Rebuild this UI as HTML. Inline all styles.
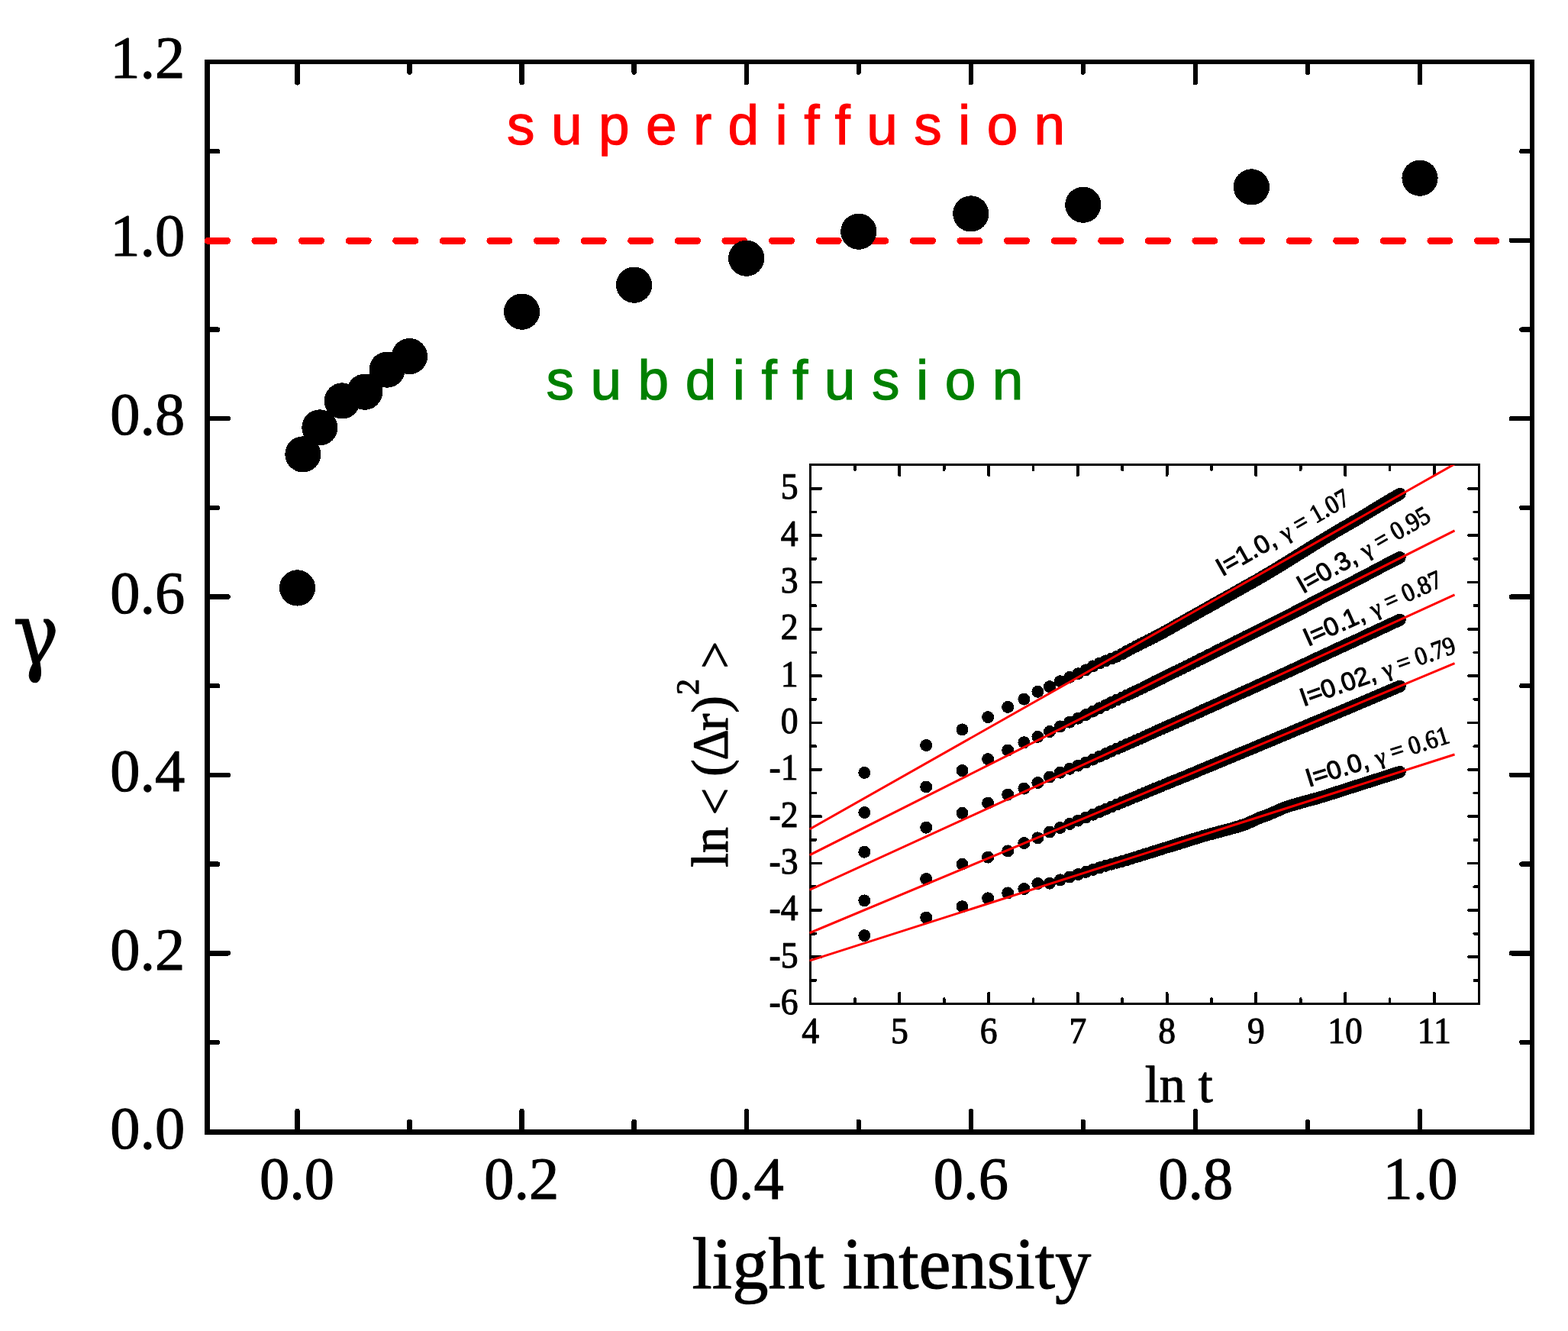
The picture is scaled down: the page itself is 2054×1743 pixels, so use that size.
<!DOCTYPE html>
<html lang="en">
<head>
<meta charset="utf-8">
<title>Diffusion exponent versus light intensity</title>
<style>
html,body{margin:0;padding:0;background:#fff;}
body{width:2054px;height:1743px;overflow:hidden;}
svg{display:block;}
.s{font-family:"Liberation Serif","DejaVu Serif",serif;}
.a{font-family:"Liberation Sans","DejaVu Sans",sans-serif;}
.g{font-family:"DejaVu Serif","Liberation Serif",serif;}
.t{fill:#000;stroke:#000;stroke-width:1.1px;stroke-linejoin:round;}
.t2{fill:#000;stroke:#000;stroke-width:1.1px;stroke-linejoin:round;}
</style>
</head>
<body>
<svg width="2054" height="1743" viewBox="0 0 2054 1743" shape-rendering="crispEdges" text-rendering="geometricPrecision">
<rect x="0" y="0" width="2054" height="1743" fill="#fff"/>
<g id="main-plot">
<path class="tick" d="M389.5 1482.4v-27.3M389.5 81.0v27.3M536.5 1482.4v-13.6M536.5 81.0v13.6M683.6 1482.4v-27.3M683.6 81.0v27.3M830.6 1482.4v-13.6M830.6 81.0v13.6M977.7 1482.4v-27.3M977.7 81.0v27.3M1124.8 1482.4v-13.6M1124.8 81.0v13.6M1271.8 1482.4v-27.3M1271.8 81.0v27.3M1418.8 1482.4v-13.6M1418.8 81.0v13.6M1565.9 1482.4v-27.3M1565.9 81.0v27.3M1713.0 1482.4v-13.6M1713.0 81.0v13.6M1860.0 1482.4v-27.3M1860.0 81.0v27.3M271.5 1364.9h13.6M2007.0 1364.9h-13.6M271.5 1248.3h27.3M2007.0 1248.3h-27.3M271.5 1131.6h13.6M2007.0 1131.6h-13.6M271.5 1014.9h27.3M2007.0 1014.9h-27.3M271.5 898.2h13.6M2007.0 898.2h-13.6M271.5 781.6h27.3M2007.0 781.6h-27.3M271.5 664.9h13.6M2007.0 664.9h-13.6M271.5 548.2h27.3M2007.0 548.2h-27.3M271.5 431.6h13.6M2007.0 431.6h-13.6M271.5 314.9h27.3M2007.0 314.9h-27.3M271.5 198.2h13.6M2007.0 198.2h-13.6" fill="none" stroke="#000" stroke-width="6.4" stroke-linecap="round"/>
<rect class="frame" x="271.5" y="81.0" width="1735.5" height="1401.4" fill="none" stroke="#000" stroke-width="6.6"/>
<path class="ref" d="M272.3 315.3H1960" fill="none" stroke="#f00" stroke-width="9" stroke-linecap="round" stroke-dasharray="25.1 36.5"/>
<g class="pts">
<circle cx="389.5" cy="769.9" r="23.6"/>
<circle cx="396.9" cy="594.9" r="23.6"/>
<circle cx="418.9" cy="559.9" r="23.6"/>
<circle cx="448.3" cy="524.9" r="23.6"/>
<circle cx="477.7" cy="513.2" r="23.6"/>
<circle cx="507.1" cy="484.1" r="23.6"/>
<circle cx="536.5" cy="466.6" r="23.6"/>
<circle cx="683.6" cy="408.2" r="23.6"/>
<circle cx="830.6" cy="373.2" r="23.6"/>
<circle cx="977.7" cy="338.2" r="23.6"/>
<circle cx="1124.8" cy="303.2" r="23.6"/>
<circle cx="1271.8" cy="279.9" r="23.6"/>
<circle cx="1418.8" cy="268.2" r="23.6"/>
<circle cx="1639.4" cy="244.9" r="23.6"/>
<circle cx="1860.0" cy="233.2" r="23.6"/>
</g>
<g class="s t" font-size="78.5" text-anchor="end">
<text x="242.3" y="1503.6">0.0</text>
<text x="242.3" y="1269.9">0.2</text>
<text x="242.3" y="1036.2">0.4</text>
<text x="242.3" y="802.6">0.6</text>
<text x="242.3" y="568.9">0.8</text>
<text x="242.3" y="335.2">1.0</text>
<text x="242.3" y="101.5">1.2</text>
</g>
<g class="s t" font-size="78.5" text-anchor="middle">
<text x="389.0" y="1570.3">0.0</text>
<text x="683.3" y="1570.3">0.2</text>
<text x="977.6" y="1570.3">0.4</text>
<text x="1271.9" y="1570.3">0.6</text>
<text x="1566.2" y="1570.3">0.8</text>
<text x="1860.5" y="1570.3">1.0</text>
</g>
<text class="s t" font-size="96" transform="translate(906.6 1686.5) scale(0.985 1)">light intensity</text>
<text class="g t" font-size="113.8" transform="translate(16.8 870.2) scale(0.89 1)">γ</text>
<text class="a" font-size="73" x="664.1" y="188.5" style="fill:#f00;stroke:#f00;stroke-width:1.2px" letter-spacing="21.38">superdiffusion</text>
<text class="a" font-size="73" x="715.4" y="523" style="fill:#008000;stroke:#008000;stroke-width:1.2px" letter-spacing="21.52">subdiffusion</text>
</g>
<g id="inset">
<clipPath id="ic"><rect x="1060.4" y="608.8" width="878.6999999999998" height="705.6000000000001"/></clipPath>
<path class="msd" d="M1132.3 1011.9h0M1213.2 976.0h0M1260.5 955.4h0M1294.1 939.1h0M1320.2 925.9h0M1341.4 915.6h0M1359.4 905.8h0M1375.0 899.1h0M1388.8 892.2h0M1401.1 886.9h0M1412.2 882.2h0M1422.4 877.4h0M1431.7 872.4h0M1440.4 868.5h0M1448.4 865.4h0M1456.0 862.6h0M1463.0 859.7h0M1469.7 856.4h0M1476.0 852.9h0M1482.0 849.7h0M1487.7 846.7h0M1493.1 844.0h0M1498.3 841.4h0M1503.3 838.9h0M1508.1 836.5h0M1512.6 834.1h0M1517.0 831.8h0M1521.3 829.6h0M1525.4 827.3h0M1529.3 825.1h0M1533.2 823.0h0M1536.9 820.9h0M1540.5 818.8h0M1544.0 816.9h0M1547.3 815.0h0M1550.6 813.1h0M1553.8 811.3h0M1556.9 809.6h0M1560.0 807.9h0M1562.9 806.2h0M1565.8 804.6h0M1568.6 803.0h0M1571.4 801.5h0M1574.1 800.0h0M1576.7 798.5h0M1579.2 797.1h0M1581.8 795.7h0M1584.2 794.3h0M1586.6 793.0h0M1589.0 791.6h0M1591.3 790.3h0M1593.6 789.1h0M1595.8 787.8h0M1598.0 786.6h0M1600.1 785.4h0M1602.2 784.2h0M1604.3 783.1h0M1606.3 781.9h0M1608.3 780.8h0M1610.3 779.7h0M1612.2 778.6h0M1614.1 777.6h0M1616.0 776.5h0M1617.8 775.5h0M1619.6 774.5h0M1621.4 773.5h0M1623.2 772.5h0M1624.9 771.5h0M1626.6 770.6h0M1628.3 769.6h0M1629.9 768.7h0M1631.6 767.8h0M1633.2 766.8h0M1634.8 766.0h0M1636.3 765.1h0M1637.9 764.2h0M1639.4 763.3h0M1640.9 762.5h0M1642.4 761.6h0M1643.9 760.8h0M1645.3 760.0h0M1646.7 759.2h0M1648.2 758.4h0M1649.6 757.6h0M1650.9 756.8h0M1652.3 756.0h0M1653.6 755.2h0M1655.0 754.4h0M1656.3 753.7h0M1657.6 752.9h0M1658.9 752.1h0M1660.2 751.4h0M1661.4 750.6h0M1662.7 749.9h0M1663.9 749.2h0M1665.1 748.4h0M1666.4 747.7h0M1667.5 747.0h0M1668.7 746.3h0M1669.9 745.6h0M1671.1 744.9h0M1672.2 744.2h0M1673.4 743.5h0M1674.5 742.8h0M1675.6 742.1h0M1676.7 741.4h0M1677.8 740.7h0M1678.9 740.1h0M1680.0 739.4h0M1681.0 738.8h0M1682.1 738.1h0M1683.1 737.5h0M1684.2 736.8h0M1685.2 736.2h0M1686.2 735.6h0M1687.2 734.9h0M1688.2 734.3h0M1689.2 733.7h0M1690.2 733.1h0M1691.2 732.5h0M1692.2 731.9h0M1693.1 731.3h0M1694.1 730.7h0M1695.0 730.1h0M1696.0 729.5h0M1696.9 728.9h0M1697.8 728.4h0M1698.7 727.8h0M1699.6 727.2h0M1700.5 726.7h0M1701.4 726.1h0M1702.3 725.6h0M1703.2 725.0h0M1704.1 724.5h0M1704.9 723.9h0M1705.8 723.4h0M1706.7 722.8h0M1707.5 722.3h0M1708.4 721.8h0M1709.2 721.3h0M1710.0 720.8h0M1710.8 720.2h0M1711.7 719.7h0M1712.5 719.2h0M1713.3 718.7h0M1714.1 718.2h0M1714.9 717.7h0M1715.7 717.2h0M1716.5 716.7h0M1717.2 716.3h0M1718.0 715.8h0M1718.8 715.3h0M1719.6 714.8h0M1720.3 714.4h0M1721.1 713.9h0M1721.8 713.4h0M1722.6 713.0h0M1723.3 712.5h0M1724.0 712.0h0M1724.8 711.6h0M1725.5 711.1h0M1726.2 710.7h0M1726.9 710.3h0M1727.7 709.8h0M1728.4 709.4h0M1729.1 709.0h0M1729.8 708.5h0M1730.5 708.1h0M1731.2 707.7h0M1731.9 707.3h0M1732.5 706.8h0M1733.2 706.4h0M1733.9 706.0h0M1734.6 705.6h0M1735.2 705.2h0M1735.9 704.8h0M1736.6 704.4h0M1737.2 704.0h0M1737.9 703.6h0M1738.5 703.2h0M1739.2 702.8h0M1739.8 702.4h0M1740.5 702.0h0M1741.1 701.7h0M1741.7 701.3h0M1742.4 700.9h0M1743.0 700.5h0M1743.6 700.2h0M1744.2 699.8h0M1744.8 699.4h0M1745.5 699.1h0M1746.1 698.7h0M1746.7 698.3h0M1747.3 698.0h0M1747.9 697.6h0M1748.5 697.3h0M1749.1 696.9h0M1749.7 696.6h0M1750.2 696.2h0M1750.8 695.9h0M1751.4 695.5h0M1752.0 695.2h0M1752.6 694.9h0M1753.1 694.5h0M1753.7 694.2h0M1754.3 693.9h0M1754.8 693.5h0M1755.4 693.2h0M1756.0 692.9h0M1756.5 692.6h0M1757.1 692.3h0M1757.6 691.9h0M1758.2 691.6h0M1758.7 691.3h0M1759.3 691.0h0M1759.8 690.7h0M1760.4 690.4h0M1760.9 690.1h0M1761.4 689.8h0M1762.0 689.5h0M1762.5 689.2h0M1763.0 688.9h0M1763.5 688.6h0M1764.1 688.3h0M1764.6 688.0h0M1765.1 687.7h0M1765.6 687.4h0M1766.1 687.1h0M1766.6 686.8h0M1767.1 686.5h0M1767.7 686.2h0M1768.2 685.9h0M1768.7 685.6h0M1769.2 685.3h0M1769.7 685.0h0M1770.2 684.8h0M1770.6 684.5h0M1771.1 684.2h0M1771.6 683.9h0M1772.1 683.6h0M1772.6 683.3h0M1773.1 683.0h0M1773.6 682.8h0M1774.0 682.5h0M1774.5 682.2h0M1775.0 681.9h0M1775.5 681.6h0M1775.9 681.4h0M1776.4 681.1h0M1776.9 680.8h0M1777.4 680.5h0M1777.8 680.3h0M1778.3 680.0h0M1778.7 679.7h0M1779.2 679.4h0M1779.7 679.2h0M1780.1 678.9h0M1780.6 678.6h0M1781.0 678.3h0M1781.5 678.1h0M1781.9 677.8h0M1782.4 677.5h0M1782.8 677.3h0M1783.2 677.0h0M1783.7 676.7h0M1784.1 676.5h0M1784.6 676.2h0M1785.0 676.0h0M1785.4 675.7h0M1785.9 675.4h0M1786.3 675.2h0M1786.7 674.9h0M1787.2 674.7h0M1787.6 674.4h0M1788.0 674.1h0M1788.4 673.9h0M1788.9 673.6h0M1789.3 673.4h0M1789.7 673.1h0M1790.1 672.9h0M1790.5 672.6h0M1790.9 672.4h0M1791.4 672.1h0M1791.8 671.9h0M1792.2 671.6h0M1792.6 671.4h0M1793.0 671.1h0M1793.4 670.9h0M1793.8 670.6h0M1794.2 670.4h0M1794.6 670.1h0M1795.0 669.9h0M1795.4 669.7h0M1795.8 669.4h0M1796.2 669.2h0M1796.6 668.9h0M1797.0 668.7h0M1797.4 668.5h0M1797.8 668.2h0M1798.2 668.0h0M1798.6 667.7h0M1798.9 667.5h0M1799.3 667.3h0M1799.7 667.0h0M1800.1 666.8h0M1800.5 666.6h0M1800.9 666.3h0M1801.2 666.1h0M1801.6 665.9h0M1802.0 665.7h0M1802.4 665.4h0M1802.7 665.2h0M1803.1 665.0h0M1803.5 664.7h0M1803.9 664.5h0M1804.2 664.3h0M1804.6 664.1h0M1805.0 663.8h0M1805.3 663.6h0M1805.7 663.4h0M1806.1 663.2h0M1806.4 663.0h0M1806.8 662.7h0M1807.2 662.5h0M1807.5 662.3h0M1807.9 662.1h0M1808.2 661.9h0M1808.6 661.7h0M1808.9 661.4h0M1809.3 661.2h0M1809.7 661.0h0M1810.0 660.8h0M1810.4 660.6h0M1810.7 660.4h0M1811.1 660.2h0M1811.4 660.0h0M1811.7 659.8h0M1812.1 659.5h0M1812.4 659.3h0M1812.8 659.1h0M1813.1 658.9h0M1813.5 658.7h0M1813.8 658.5h0M1814.1 658.3h0M1814.5 658.1h0M1814.8 657.9h0M1815.2 657.7h0M1815.5 657.5h0M1815.8 657.3h0M1816.2 657.1h0M1816.5 656.9h0M1816.8 656.7h0M1817.2 656.5h0M1817.5 656.3h0M1817.8 656.1h0M1818.2 655.9h0M1818.5 655.7h0M1818.8 655.5h0M1819.1 655.3h0M1819.5 655.1h0M1819.8 655.0h0M1820.1 654.8h0M1820.4 654.6h0M1820.7 654.4h0M1821.1 654.2h0M1821.4 654.0h0M1821.7 653.8h0M1822.0 653.6h0M1822.3 653.4h0M1822.7 653.3h0M1823.0 653.1h0M1823.3 652.9h0M1823.6 652.7h0M1823.9 652.5h0M1824.2 652.3h0M1824.5 652.2h0M1824.8 652.0h0M1825.2 651.8h0M1825.5 651.6h0M1825.8 651.4h0M1826.1 651.3h0M1826.4 651.1h0M1826.7 650.9h0M1827.0 650.7h0M1827.3 650.5h0M1827.6 650.4h0M1827.9 650.2h0M1828.2 650.0h0M1828.5 649.8h0M1828.8 649.7h0M1829.1 649.5h0M1829.4 649.3h0M1829.7 649.2h0M1830.0 649.0h0M1830.3 648.8h0M1830.6 648.6h0M1830.9 648.5h0M1831.2 648.3h0M1831.5 648.1h0M1831.8 648.0h0M1832.0 647.8h0M1832.3 647.6h0M1832.6 647.5h0M1832.9 647.3h0M1833.2 647.1h0M1833.5 647.0h0M1833.8 646.8h0M1132.3 1064.0h0M1213.2 1030.5h0M1260.5 1009.1h0M1294.1 994.1h0M1320.2 982.5h0M1341.4 972.2h0M1359.4 964.9h0M1375.0 958.0h0M1388.8 951.4h0M1401.1 945.7h0M1412.2 940.7h0M1422.4 936.0h0M1431.7 931.6h0M1440.4 927.3h0M1448.4 923.4h0M1456.0 919.8h0M1463.0 916.5h0M1469.7 913.5h0M1476.0 910.6h0M1482.0 907.8h0M1487.7 905.1h0M1493.1 902.6h0M1498.3 900.1h0M1503.3 897.6h0M1508.1 895.2h0M1512.6 892.9h0M1517.0 890.8h0M1521.3 888.7h0M1525.4 886.6h0M1529.3 884.7h0M1533.2 882.8h0M1536.9 881.0h0M1540.5 879.2h0M1544.0 877.5h0M1547.3 875.9h0M1550.6 874.3h0M1553.8 872.7h0M1556.9 871.1h0M1560.0 869.6h0M1562.9 868.1h0M1565.8 866.7h0M1568.6 865.3h0M1571.4 863.9h0M1574.1 862.5h0M1576.7 861.2h0M1579.2 860.0h0M1581.8 858.7h0M1584.2 857.5h0M1586.6 856.3h0M1589.0 855.1h0M1591.3 853.9h0M1593.6 852.8h0M1595.8 851.7h0M1598.0 850.6h0M1600.1 849.6h0M1602.2 848.5h0M1604.3 847.5h0M1606.3 846.5h0M1608.3 845.5h0M1610.3 844.5h0M1612.2 843.6h0M1614.1 842.6h0M1616.0 841.7h0M1617.8 840.8h0M1619.6 839.9h0M1621.4 839.0h0M1623.2 838.1h0M1624.9 837.3h0M1626.6 836.4h0M1628.3 835.6h0M1629.9 834.8h0M1631.6 833.9h0M1633.2 833.1h0M1634.8 832.4h0M1636.3 831.6h0M1637.9 830.8h0M1639.4 830.1h0M1640.9 829.3h0M1642.4 828.6h0M1643.9 827.8h0M1645.3 827.1h0M1646.7 826.4h0M1648.2 825.7h0M1649.6 825.0h0M1650.9 824.3h0M1652.3 823.6h0M1653.6 823.0h0M1655.0 822.3h0M1656.3 821.6h0M1657.6 821.0h0M1658.9 820.3h0M1660.2 819.7h0M1661.4 819.1h0M1662.7 818.5h0M1663.9 817.8h0M1665.1 817.2h0M1666.4 816.6h0M1667.5 816.0h0M1668.7 815.4h0M1669.9 814.8h0M1671.1 814.3h0M1672.2 813.7h0M1673.4 813.1h0M1674.5 812.5h0M1675.6 812.0h0M1676.7 811.4h0M1677.8 810.9h0M1678.9 810.3h0M1680.0 809.8h0M1681.0 809.3h0M1682.1 808.7h0M1683.1 808.2h0M1684.2 807.7h0M1685.2 807.2h0M1686.2 806.6h0M1687.2 806.1h0M1688.2 805.6h0M1689.2 805.1h0M1690.2 804.6h0M1691.2 804.1h0M1692.2 803.6h0M1693.1 803.1h0M1694.1 802.6h0M1695.0 802.1h0M1696.0 801.6h0M1696.9 801.2h0M1697.8 800.7h0M1698.7 800.2h0M1699.6 799.7h0M1700.5 799.3h0M1701.4 798.8h0M1702.3 798.3h0M1703.2 797.9h0M1704.1 797.4h0M1704.9 797.0h0M1705.8 796.5h0M1706.7 796.1h0M1707.5 795.6h0M1708.4 795.2h0M1709.2 794.8h0M1710.0 794.3h0M1710.8 793.9h0M1711.7 793.5h0M1712.5 793.0h0M1713.3 792.6h0M1714.1 792.2h0M1714.9 791.8h0M1715.7 791.4h0M1716.5 791.0h0M1717.2 790.5h0M1718.0 790.1h0M1718.8 789.7h0M1719.6 789.3h0M1720.3 788.9h0M1721.1 788.5h0M1721.8 788.1h0M1722.6 787.8h0M1723.3 787.4h0M1724.0 787.0h0M1724.8 786.6h0M1725.5 786.2h0M1726.2 785.8h0M1726.9 785.5h0M1727.7 785.1h0M1728.4 784.7h0M1729.1 784.3h0M1729.8 784.0h0M1730.5 783.6h0M1731.2 783.2h0M1731.9 782.9h0M1732.5 782.5h0M1733.2 782.2h0M1733.9 781.8h0M1734.6 781.5h0M1735.2 781.1h0M1735.9 780.8h0M1736.6 780.4h0M1737.2 780.1h0M1737.9 779.7h0M1738.5 779.4h0M1739.2 779.1h0M1739.8 778.7h0M1740.5 778.4h0M1741.1 778.1h0M1741.7 777.7h0M1742.4 777.4h0M1743.0 777.1h0M1743.6 776.8h0M1744.2 776.4h0M1744.8 776.1h0M1745.5 775.8h0M1746.1 775.5h0M1746.7 775.2h0M1747.3 774.9h0M1747.9 774.6h0M1748.5 774.2h0M1749.1 773.9h0M1749.7 773.6h0M1750.2 773.3h0M1750.8 773.0h0M1751.4 772.7h0M1752.0 772.4h0M1752.6 772.1h0M1753.1 771.9h0M1753.7 771.6h0M1754.3 771.3h0M1754.8 771.0h0M1755.4 770.7h0M1756.0 770.4h0M1756.5 770.1h0M1757.1 769.8h0M1757.6 769.6h0M1758.2 769.3h0M1758.7 769.0h0M1759.3 768.7h0M1759.8 768.5h0M1760.4 768.2h0M1760.9 767.9h0M1761.4 767.6h0M1762.0 767.4h0M1762.5 767.1h0M1763.0 766.8h0M1763.5 766.6h0M1764.1 766.3h0M1764.6 766.1h0M1765.1 765.8h0M1765.6 765.5h0M1766.1 765.3h0M1766.6 765.0h0M1767.1 764.8h0M1767.7 764.5h0M1768.2 764.2h0M1768.7 764.0h0M1769.2 763.7h0M1769.7 763.5h0M1770.2 763.2h0M1770.6 763.0h0M1771.1 762.7h0M1771.6 762.5h0M1772.1 762.2h0M1772.6 762.0h0M1773.1 761.7h0M1773.6 761.5h0M1774.0 761.2h0M1774.5 761.0h0M1775.0 760.7h0M1775.5 760.5h0M1775.9 760.2h0M1776.4 760.0h0M1776.9 759.7h0M1777.4 759.5h0M1777.8 759.3h0M1778.3 759.0h0M1778.7 758.8h0M1779.2 758.5h0M1779.7 758.3h0M1780.1 758.1h0M1780.6 757.8h0M1781.0 757.6h0M1781.5 757.3h0M1781.9 757.1h0M1782.4 756.9h0M1782.8 756.6h0M1783.2 756.4h0M1783.7 756.2h0M1784.1 755.9h0M1784.6 755.7h0M1785.0 755.5h0M1785.4 755.3h0M1785.9 755.0h0M1786.3 754.8h0M1786.7 754.6h0M1787.2 754.4h0M1787.6 754.1h0M1788.0 753.9h0M1788.4 753.7h0M1788.9 753.5h0M1789.3 753.2h0M1789.7 753.0h0M1790.1 752.8h0M1790.5 752.6h0M1790.9 752.4h0M1791.4 752.1h0M1791.8 751.9h0M1792.2 751.7h0M1792.6 751.5h0M1793.0 751.3h0M1793.4 751.1h0M1793.8 750.8h0M1794.2 750.6h0M1794.6 750.4h0M1795.0 750.2h0M1795.4 750.0h0M1795.8 749.8h0M1796.2 749.6h0M1796.6 749.4h0M1797.0 749.2h0M1797.4 748.9h0M1797.8 748.7h0M1798.2 748.5h0M1798.6 748.3h0M1798.9 748.1h0M1799.3 747.9h0M1799.7 747.7h0M1800.1 747.5h0M1800.5 747.3h0M1800.9 747.1h0M1801.2 746.9h0M1801.6 746.7h0M1802.0 746.5h0M1802.4 746.3h0M1802.7 746.1h0M1803.1 745.9h0M1803.5 745.7h0M1803.9 745.5h0M1804.2 745.3h0M1804.6 745.1h0M1805.0 744.9h0M1805.3 744.7h0M1805.7 744.5h0M1806.1 744.3h0M1806.4 744.2h0M1806.8 744.0h0M1807.2 743.8h0M1807.5 743.6h0M1807.9 743.4h0M1808.2 743.2h0M1808.6 743.0h0M1808.9 742.8h0M1809.3 742.6h0M1809.7 742.5h0M1810.0 742.3h0M1810.4 742.1h0M1810.7 741.9h0M1811.1 741.7h0M1811.4 741.5h0M1811.7 741.4h0M1812.1 741.2h0M1812.4 741.0h0M1812.8 740.8h0M1813.1 740.6h0M1813.5 740.5h0M1813.8 740.3h0M1814.1 740.1h0M1814.5 739.9h0M1814.8 739.7h0M1815.2 739.6h0M1815.5 739.4h0M1815.8 739.2h0M1816.2 739.0h0M1816.5 738.9h0M1816.8 738.7h0M1817.2 738.5h0M1817.5 738.3h0M1817.8 738.2h0M1818.2 738.0h0M1818.5 737.8h0M1818.8 737.7h0M1819.1 737.5h0M1819.5 737.3h0M1819.8 737.2h0M1820.1 737.0h0M1820.4 736.8h0M1820.7 736.7h0M1821.1 736.5h0M1821.4 736.3h0M1821.7 736.2h0M1822.0 736.0h0M1822.3 735.8h0M1822.7 735.7h0M1823.0 735.5h0M1823.3 735.3h0M1823.6 735.2h0M1823.9 735.0h0M1824.2 734.9h0M1824.5 734.7h0M1824.8 734.5h0M1825.2 734.4h0M1825.5 734.2h0M1825.8 734.1h0M1826.1 733.9h0M1826.4 733.7h0M1826.7 733.6h0M1827.0 733.4h0M1827.3 733.3h0M1827.6 733.1h0M1827.9 733.0h0M1828.2 732.8h0M1828.5 732.7h0M1828.8 732.5h0M1829.1 732.3h0M1829.4 732.2h0M1829.7 732.0h0M1830.0 731.9h0M1830.3 731.7h0M1830.6 731.6h0M1830.9 731.4h0M1831.2 731.3h0M1831.5 731.1h0M1831.8 731.0h0M1832.0 730.9h0M1832.3 730.7h0M1832.6 730.6h0M1832.9 730.4h0M1833.2 730.3h0M1833.5 730.1h0M1833.8 730.0h0M1132.3 1115.7h0M1213.2 1083.7h0M1260.5 1064.8h0M1294.1 1051.7h0M1320.2 1040.6h0M1341.4 1032.6h0M1359.4 1025.0h0M1375.0 1017.6h0M1388.8 1011.7h0M1401.1 1006.8h0M1412.2 1002.6h0M1422.4 998.5h0M1431.7 994.6h0M1440.4 990.6h0M1448.4 987.0h0M1456.0 983.7h0M1463.0 980.6h0M1469.7 977.7h0M1476.0 974.9h0M1482.0 972.3h0M1487.7 969.8h0M1493.1 967.4h0M1498.3 965.1h0M1503.3 962.8h0M1508.1 960.7h0M1512.6 958.6h0M1517.0 956.6h0M1521.3 954.7h0M1525.4 952.9h0M1529.3 951.1h0M1533.2 949.4h0M1536.9 947.8h0M1540.5 946.2h0M1544.0 944.6h0M1547.3 943.1h0M1550.6 941.6h0M1553.8 940.2h0M1556.9 938.8h0M1560.0 937.4h0M1562.9 936.1h0M1565.8 934.8h0M1568.6 933.5h0M1571.4 932.2h0M1574.1 931.0h0M1576.7 929.8h0M1579.2 928.6h0M1581.8 927.5h0M1584.2 926.4h0M1586.6 925.3h0M1589.0 924.2h0M1591.3 923.2h0M1593.6 922.2h0M1595.8 921.1h0M1598.0 920.2h0M1600.1 919.2h0M1602.2 918.2h0M1604.3 917.3h0M1606.3 916.4h0M1608.3 915.5h0M1610.3 914.6h0M1612.2 913.7h0M1614.1 912.9h0M1616.0 912.0h0M1617.8 911.2h0M1619.6 910.4h0M1621.4 909.6h0M1623.2 908.8h0M1624.9 908.0h0M1626.6 907.2h0M1628.3 906.5h0M1629.9 905.7h0M1631.6 905.0h0M1633.2 904.3h0M1634.8 903.6h0M1636.3 902.9h0M1637.9 902.2h0M1639.4 901.5h0M1640.9 900.8h0M1642.4 900.1h0M1643.9 899.5h0M1645.3 898.8h0M1646.7 898.2h0M1648.2 897.5h0M1649.6 896.9h0M1650.9 896.3h0M1652.3 895.6h0M1653.6 895.0h0M1655.0 894.4h0M1656.3 893.8h0M1657.6 893.2h0M1658.9 892.6h0M1660.2 892.1h0M1661.4 891.5h0M1662.7 890.9h0M1663.9 890.4h0M1665.1 889.8h0M1666.4 889.3h0M1667.5 888.7h0M1668.7 888.2h0M1669.9 887.6h0M1671.1 887.1h0M1672.2 886.6h0M1673.4 886.1h0M1674.5 885.6h0M1675.6 885.1h0M1676.7 884.5h0M1677.8 884.0h0M1678.9 883.5h0M1680.0 883.1h0M1681.0 882.6h0M1682.1 882.1h0M1683.1 881.6h0M1684.2 881.1h0M1685.2 880.7h0M1686.2 880.2h0M1687.2 879.7h0M1688.2 879.3h0M1689.2 878.8h0M1690.2 878.4h0M1691.2 877.9h0M1692.2 877.5h0M1693.1 877.0h0M1694.1 876.6h0M1695.0 876.1h0M1696.0 875.7h0M1696.9 875.3h0M1697.8 874.8h0M1698.7 874.4h0M1699.6 874.0h0M1700.5 873.6h0M1701.4 873.2h0M1702.3 872.7h0M1703.2 872.3h0M1704.1 871.9h0M1704.9 871.5h0M1705.8 871.1h0M1706.7 870.7h0M1707.5 870.3h0M1708.4 869.9h0M1709.2 869.6h0M1710.0 869.2h0M1710.8 868.8h0M1711.7 868.4h0M1712.5 868.0h0M1713.3 867.6h0M1714.1 867.3h0M1714.9 866.9h0M1715.7 866.5h0M1716.5 866.2h0M1717.2 865.8h0M1718.0 865.4h0M1718.8 865.1h0M1719.6 864.7h0M1720.3 864.4h0M1721.1 864.0h0M1721.8 863.7h0M1722.6 863.3h0M1723.3 863.0h0M1724.0 862.6h0M1724.8 862.3h0M1725.5 861.9h0M1726.2 861.6h0M1726.9 861.3h0M1727.7 860.9h0M1728.4 860.6h0M1729.1 860.3h0M1729.8 860.0h0M1730.5 859.6h0M1731.2 859.3h0M1731.9 859.0h0M1732.5 858.7h0M1733.2 858.3h0M1733.9 858.0h0M1734.6 857.7h0M1735.2 857.4h0M1735.9 857.1h0M1736.6 856.8h0M1737.2 856.5h0M1737.9 856.2h0M1738.5 855.9h0M1739.2 855.6h0M1739.8 855.3h0M1740.5 855.0h0M1741.1 854.7h0M1741.7 854.4h0M1742.4 854.1h0M1743.0 853.8h0M1743.6 853.5h0M1744.2 853.2h0M1744.8 852.9h0M1745.5 852.7h0M1746.1 852.4h0M1746.7 852.1h0M1747.3 851.8h0M1747.9 851.5h0M1748.5 851.3h0M1749.1 851.0h0M1749.7 850.7h0M1750.2 850.4h0M1750.8 850.2h0M1751.4 849.9h0M1752.0 849.6h0M1752.6 849.4h0M1753.1 849.1h0M1753.7 848.8h0M1754.3 848.6h0M1754.8 848.3h0M1755.4 848.1h0M1756.0 847.8h0M1756.5 847.6h0M1757.1 847.3h0M1757.6 847.0h0M1758.2 846.8h0M1758.7 846.5h0M1759.3 846.3h0M1759.8 846.0h0M1760.4 845.8h0M1760.9 845.6h0M1761.4 845.3h0M1762.0 845.1h0M1762.5 844.8h0M1763.0 844.6h0M1763.5 844.3h0M1764.1 844.1h0M1764.6 843.9h0M1765.1 843.6h0M1765.6 843.4h0M1766.1 843.2h0M1766.6 842.9h0M1767.1 842.7h0M1767.7 842.4h0M1768.2 842.2h0M1768.7 842.0h0M1769.2 841.8h0M1769.7 841.5h0M1770.2 841.3h0M1770.6 841.1h0M1771.1 840.8h0M1771.6 840.6h0M1772.1 840.4h0M1772.6 840.2h0M1773.1 839.9h0M1773.6 839.7h0M1774.0 839.5h0M1774.5 839.3h0M1775.0 839.1h0M1775.5 838.8h0M1775.9 838.6h0M1776.4 838.4h0M1776.9 838.2h0M1777.4 838.0h0M1777.8 837.8h0M1778.3 837.5h0M1778.7 837.3h0M1779.2 837.1h0M1779.7 836.9h0M1780.1 836.7h0M1780.6 836.5h0M1781.0 836.3h0M1781.5 836.1h0M1781.9 835.8h0M1782.4 835.6h0M1782.8 835.4h0M1783.2 835.2h0M1783.7 835.0h0M1784.1 834.8h0M1784.6 834.6h0M1785.0 834.4h0M1785.4 834.2h0M1785.9 834.0h0M1786.3 833.8h0M1786.7 833.6h0M1787.2 833.4h0M1787.6 833.2h0M1788.0 833.0h0M1788.4 832.8h0M1788.9 832.6h0M1789.3 832.4h0M1789.7 832.2h0M1790.1 832.0h0M1790.5 831.8h0M1790.9 831.6h0M1791.4 831.4h0M1791.8 831.2h0M1792.2 831.1h0M1792.6 830.9h0M1793.0 830.7h0M1793.4 830.5h0M1793.8 830.3h0M1794.2 830.1h0M1794.6 829.9h0M1795.0 829.7h0M1795.4 829.5h0M1795.8 829.4h0M1796.2 829.2h0M1796.6 829.0h0M1797.0 828.8h0M1797.4 828.6h0M1797.8 828.4h0M1798.2 828.3h0M1798.6 828.1h0M1798.9 827.9h0M1799.3 827.7h0M1799.7 827.5h0M1800.1 827.4h0M1800.5 827.2h0M1800.9 827.0h0M1801.2 826.8h0M1801.6 826.6h0M1802.0 826.5h0M1802.4 826.3h0M1802.7 826.1h0M1803.1 825.9h0M1803.5 825.8h0M1803.9 825.6h0M1804.2 825.4h0M1804.6 825.2h0M1805.0 825.1h0M1805.3 824.9h0M1805.7 824.7h0M1806.1 824.6h0M1806.4 824.4h0M1806.8 824.2h0M1807.2 824.1h0M1807.5 823.9h0M1807.9 823.7h0M1808.2 823.6h0M1808.6 823.4h0M1808.9 823.2h0M1809.3 823.1h0M1809.7 822.9h0M1810.0 822.7h0M1810.4 822.6h0M1810.7 822.4h0M1811.1 822.2h0M1811.4 822.1h0M1811.7 821.9h0M1812.1 821.8h0M1812.4 821.6h0M1812.8 821.4h0M1813.1 821.3h0M1813.5 821.1h0M1813.8 821.0h0M1814.1 820.8h0M1814.5 820.6h0M1814.8 820.5h0M1815.2 820.3h0M1815.5 820.2h0M1815.8 820.0h0M1816.2 819.9h0M1816.5 819.7h0M1816.8 819.5h0M1817.2 819.4h0M1817.5 819.2h0M1817.8 819.1h0M1818.2 818.9h0M1818.5 818.8h0M1818.8 818.6h0M1819.1 818.5h0M1819.5 818.3h0M1819.8 818.2h0M1820.1 818.0h0M1820.4 817.9h0M1820.7 817.7h0M1821.1 817.6h0M1821.4 817.4h0M1821.7 817.3h0M1822.0 817.1h0M1822.3 817.0h0M1822.7 816.8h0M1823.0 816.7h0M1823.3 816.6h0M1823.6 816.4h0M1823.9 816.3h0M1824.2 816.1h0M1824.5 816.0h0M1824.8 815.8h0M1825.2 815.7h0M1825.5 815.5h0M1825.8 815.4h0M1826.1 815.3h0M1826.4 815.1h0M1826.7 815.0h0M1827.0 814.8h0M1827.3 814.7h0M1827.6 814.6h0M1827.9 814.4h0M1828.2 814.3h0M1828.5 814.1h0M1828.8 814.0h0M1829.1 813.9h0M1829.4 813.7h0M1829.7 813.6h0M1830.0 813.5h0M1830.3 813.3h0M1830.6 813.2h0M1830.9 813.0h0M1831.2 812.9h0M1831.5 812.8h0M1831.8 812.6h0M1832.0 812.5h0M1832.3 812.4h0M1832.6 812.2h0M1832.9 812.1h0M1833.2 812.0h0M1833.5 811.8h0M1833.8 811.7h0M1132.3 1179.4h0M1213.2 1151.0h0M1260.5 1131.7h0M1294.1 1122.6h0M1320.2 1114.4h0M1341.4 1104.0h0M1359.4 1097.3h0M1375.0 1089.6h0M1388.8 1084.0h0M1401.1 1079.0h0M1412.2 1074.6h0M1422.4 1070.5h0M1431.7 1066.7h0M1440.4 1063.1h0M1448.4 1059.7h0M1456.0 1056.6h0M1463.0 1053.6h0M1469.7 1050.8h0M1476.0 1048.2h0M1482.0 1045.7h0M1487.7 1043.3h0M1493.1 1041.0h0M1498.3 1038.9h0M1503.3 1036.8h0M1508.1 1034.8h0M1512.6 1032.9h0M1517.0 1031.1h0M1521.3 1029.4h0M1525.4 1027.7h0M1529.3 1026.1h0M1533.2 1024.5h0M1536.9 1023.0h0M1540.5 1021.6h0M1544.0 1020.2h0M1547.3 1018.8h0M1550.6 1017.4h0M1553.8 1016.1h0M1556.9 1014.9h0M1560.0 1013.6h0M1562.9 1012.4h0M1565.8 1011.2h0M1568.6 1010.0h0M1571.4 1008.8h0M1574.1 1007.7h0M1576.7 1006.6h0M1579.2 1005.6h0M1581.8 1004.5h0M1584.2 1003.5h0M1586.6 1002.5h0M1589.0 1001.5h0M1591.3 1000.5h0M1593.6 999.6h0M1595.8 998.6h0M1598.0 997.7h0M1600.1 996.8h0M1602.2 996.0h0M1604.3 995.1h0M1606.3 994.2h0M1608.3 993.4h0M1610.3 992.6h0M1612.2 991.8h0M1614.1 991.0h0M1616.0 990.2h0M1617.8 989.4h0M1619.6 988.7h0M1621.4 987.9h0M1623.2 987.2h0M1624.9 986.5h0M1626.6 985.8h0M1628.3 985.1h0M1629.9 984.4h0M1631.6 983.7h0M1633.2 983.0h0M1634.8 982.4h0M1636.3 981.7h0M1637.9 981.1h0M1639.4 980.4h0M1640.9 979.8h0M1642.4 979.2h0M1643.9 978.6h0M1645.3 978.0h0M1646.7 977.4h0M1648.2 976.8h0M1649.6 976.2h0M1650.9 975.6h0M1652.3 975.0h0M1653.6 974.5h0M1655.0 973.9h0M1656.3 973.4h0M1657.6 972.8h0M1658.9 972.3h0M1660.2 971.7h0M1661.4 971.2h0M1662.7 970.7h0M1663.9 970.2h0M1665.1 969.7h0M1666.4 969.2h0M1667.5 968.7h0M1668.7 968.2h0M1669.9 967.7h0M1671.1 967.2h0M1672.2 966.7h0M1673.4 966.2h0M1674.5 965.8h0M1675.6 965.3h0M1676.7 964.8h0M1677.8 964.4h0M1678.9 963.9h0M1680.0 963.5h0M1681.0 963.0h0M1682.1 962.6h0M1683.1 962.1h0M1684.2 961.7h0M1685.2 961.3h0M1686.2 960.9h0M1687.2 960.4h0M1688.2 960.0h0M1689.2 959.6h0M1690.2 959.2h0M1691.2 958.8h0M1692.2 958.4h0M1693.1 958.0h0M1694.1 957.6h0M1695.0 957.2h0M1696.0 956.8h0M1696.9 956.4h0M1697.8 956.0h0M1698.7 955.6h0M1699.6 955.3h0M1700.5 954.9h0M1701.4 954.5h0M1702.3 954.1h0M1703.2 953.8h0M1704.1 953.4h0M1704.9 953.0h0M1705.8 952.7h0M1706.7 952.3h0M1707.5 952.0h0M1708.4 951.6h0M1709.2 951.3h0M1710.0 950.9h0M1710.8 950.6h0M1711.7 950.2h0M1712.5 949.9h0M1713.3 949.6h0M1714.1 949.2h0M1714.9 948.9h0M1715.7 948.6h0M1716.5 948.2h0M1717.2 947.9h0M1718.0 947.6h0M1718.8 947.3h0M1719.6 946.9h0M1720.3 946.6h0M1721.1 946.3h0M1721.8 946.0h0M1722.6 945.7h0M1723.3 945.4h0M1724.0 945.1h0M1724.8 944.7h0M1725.5 944.4h0M1726.2 944.1h0M1726.9 943.8h0M1727.7 943.5h0M1728.4 943.2h0M1729.1 943.0h0M1729.8 942.7h0M1730.5 942.4h0M1731.2 942.1h0M1731.9 941.8h0M1732.5 941.5h0M1733.2 941.2h0M1733.9 940.9h0M1734.6 940.7h0M1735.2 940.4h0M1735.9 940.1h0M1736.6 939.8h0M1737.2 939.5h0M1737.9 939.3h0M1738.5 939.0h0M1739.2 938.7h0M1739.8 938.5h0M1740.5 938.2h0M1741.1 937.9h0M1741.7 937.7h0M1742.4 937.4h0M1743.0 937.1h0M1743.6 936.9h0M1744.2 936.6h0M1744.8 936.4h0M1745.5 936.1h0M1746.1 935.9h0M1746.7 935.6h0M1747.3 935.3h0M1747.9 935.1h0M1748.5 934.8h0M1749.1 934.6h0M1749.7 934.4h0M1750.2 934.1h0M1750.8 933.9h0M1751.4 933.6h0M1752.0 933.4h0M1752.6 933.1h0M1753.1 932.9h0M1753.7 932.7h0M1754.3 932.4h0M1754.8 932.2h0M1755.4 932.0h0M1756.0 931.7h0M1756.5 931.5h0M1757.1 931.3h0M1757.6 931.0h0M1758.2 930.8h0M1758.7 930.6h0M1759.3 930.3h0M1759.8 930.1h0M1760.4 929.9h0M1760.9 929.7h0M1761.4 929.4h0M1762.0 929.2h0M1762.5 929.0h0M1763.0 928.8h0M1763.5 928.6h0M1764.1 928.3h0M1764.6 928.1h0M1765.1 927.9h0M1765.6 927.7h0M1766.1 927.5h0M1766.6 927.3h0M1767.1 927.0h0M1767.7 926.8h0M1768.2 926.6h0M1768.7 926.4h0M1769.2 926.2h0M1769.7 926.0h0M1770.2 925.8h0M1770.6 925.6h0M1771.1 925.4h0M1771.6 925.2h0M1772.1 924.9h0M1772.6 924.7h0M1773.1 924.5h0M1773.6 924.3h0M1774.0 924.1h0M1774.5 923.9h0M1775.0 923.7h0M1775.5 923.5h0M1775.9 923.3h0M1776.4 923.1h0M1776.9 922.9h0M1777.4 922.7h0M1777.8 922.5h0M1778.3 922.3h0M1778.7 922.1h0M1779.2 921.9h0M1779.7 921.7h0M1780.1 921.6h0M1780.6 921.4h0M1781.0 921.2h0M1781.5 921.0h0M1781.9 920.8h0M1782.4 920.6h0M1782.8 920.4h0M1783.2 920.2h0M1783.7 920.0h0M1784.1 919.8h0M1784.6 919.7h0M1785.0 919.5h0M1785.4 919.3h0M1785.9 919.1h0M1786.3 918.9h0M1786.7 918.7h0M1787.2 918.5h0M1787.6 918.4h0M1788.0 918.2h0M1788.4 918.0h0M1788.9 917.8h0M1789.3 917.6h0M1789.7 917.5h0M1790.1 917.3h0M1790.5 917.1h0M1790.9 916.9h0M1791.4 916.8h0M1791.8 916.6h0M1792.2 916.4h0M1792.6 916.2h0M1793.0 916.1h0M1793.4 915.9h0M1793.8 915.7h0M1794.2 915.5h0M1794.6 915.4h0M1795.0 915.2h0M1795.4 915.0h0M1795.8 914.8h0M1796.2 914.7h0M1796.6 914.5h0M1797.0 914.3h0M1797.4 914.2h0M1797.8 914.0h0M1798.2 913.8h0M1798.6 913.7h0M1798.9 913.5h0M1799.3 913.3h0M1799.7 913.2h0M1800.1 913.0h0M1800.5 912.8h0M1800.9 912.7h0M1801.2 912.5h0M1801.6 912.4h0M1802.0 912.2h0M1802.4 912.0h0M1802.7 911.9h0M1803.1 911.7h0M1803.5 911.6h0M1803.9 911.4h0M1804.2 911.2h0M1804.6 911.1h0M1805.0 910.9h0M1805.3 910.8h0M1805.7 910.6h0M1806.1 910.5h0M1806.4 910.3h0M1806.8 910.1h0M1807.2 910.0h0M1807.5 909.8h0M1807.9 909.7h0M1808.2 909.5h0M1808.6 909.4h0M1808.9 909.2h0M1809.3 909.1h0M1809.7 908.9h0M1810.0 908.8h0M1810.4 908.6h0M1810.7 908.5h0M1811.1 908.3h0M1811.4 908.2h0M1811.7 908.0h0M1812.1 907.9h0M1812.4 907.7h0M1812.8 907.6h0M1813.1 907.4h0M1813.5 907.3h0M1813.8 907.2h0M1814.1 907.0h0M1814.5 906.9h0M1814.8 906.7h0M1815.2 906.6h0M1815.5 906.4h0M1815.8 906.3h0M1816.2 906.1h0M1816.5 906.0h0M1816.8 905.9h0M1817.2 905.7h0M1817.5 905.6h0M1817.8 905.4h0M1818.2 905.3h0M1818.5 905.2h0M1818.8 905.0h0M1819.1 904.9h0M1819.5 904.7h0M1819.8 904.6h0M1820.1 904.5h0M1820.4 904.3h0M1820.7 904.2h0M1821.1 904.1h0M1821.4 903.9h0M1821.7 903.8h0M1822.0 903.7h0M1822.3 903.5h0M1822.7 903.4h0M1823.0 903.3h0M1823.3 903.1h0M1823.6 903.0h0M1823.9 902.9h0M1824.2 902.7h0M1824.5 902.6h0M1824.8 902.5h0M1825.2 902.3h0M1825.5 902.2h0M1825.8 902.1h0M1826.1 901.9h0M1826.4 901.8h0M1826.7 901.7h0M1827.0 901.6h0M1827.3 901.4h0M1827.6 901.3h0M1827.9 901.2h0M1828.2 901.1h0M1828.5 900.9h0M1828.8 900.8h0M1829.1 900.7h0M1829.4 900.5h0M1829.7 900.4h0M1830.0 900.3h0M1830.3 900.2h0M1830.6 900.0h0M1830.9 899.9h0M1831.2 899.8h0M1831.5 899.7h0M1831.8 899.6h0M1832.0 899.4h0M1832.3 899.3h0M1832.6 899.2h0M1832.9 899.1h0M1833.2 898.9h0M1833.5 898.8h0M1833.8 898.7h0M1132.3 1225.1h0M1213.2 1201.6h0M1260.5 1187.2h0M1294.1 1176.3h0M1320.2 1169.4h0M1341.4 1164.0h0M1359.4 1157.0h0M1375.0 1156.7h0M1388.8 1152.3h0M1401.1 1148.5h0M1412.2 1145.0h0M1422.4 1141.9h0M1431.7 1138.9h0M1440.4 1136.2h0M1448.4 1133.8h0M1456.0 1131.7h0M1463.0 1129.7h0M1469.7 1127.9h0M1476.0 1126.1h0M1482.0 1124.3h0M1487.7 1122.5h0M1493.1 1120.8h0M1498.3 1119.1h0M1503.3 1117.6h0M1508.1 1116.1h0M1512.6 1114.7h0M1517.0 1113.3h0M1521.3 1112.0h0M1525.4 1110.7h0M1529.3 1109.5h0M1533.2 1108.3h0M1536.9 1107.2h0M1540.5 1106.0h0M1544.0 1105.0h0M1547.3 1103.9h0M1550.6 1102.9h0M1553.8 1101.9h0M1556.9 1100.9h0M1560.0 1099.9h0M1562.9 1099.0h0M1565.8 1098.1h0M1568.6 1097.2h0M1571.4 1096.4h0M1574.1 1095.6h0M1576.7 1094.8h0M1579.2 1094.1h0M1581.8 1093.4h0M1584.2 1092.7h0M1586.6 1092.1h0M1589.0 1091.4h0M1591.3 1090.8h0M1593.6 1090.2h0M1595.8 1089.6h0M1598.0 1089.0h0M1600.1 1088.5h0M1602.2 1087.9h0M1604.3 1087.4h0M1606.3 1086.8h0M1608.3 1086.3h0M1610.3 1085.7h0M1612.2 1085.2h0M1614.1 1084.6h0M1616.0 1084.1h0M1617.8 1083.6h0M1619.6 1083.1h0M1621.4 1082.5h0M1623.2 1082.0h0M1624.9 1081.5h0M1626.6 1080.9h0M1628.3 1080.4h0M1629.9 1079.8h0M1631.6 1079.2h0M1633.2 1078.6h0M1634.8 1077.9h0M1636.3 1077.2h0M1637.9 1076.6h0M1639.4 1075.9h0M1640.9 1075.2h0M1642.4 1074.5h0M1643.9 1073.8h0M1645.3 1073.1h0M1646.7 1072.5h0M1648.2 1071.9h0M1649.6 1071.2h0M1650.9 1070.7h0M1652.3 1070.1h0M1653.6 1069.6h0M1655.0 1069.1h0M1656.3 1068.6h0M1657.6 1068.2h0M1658.9 1067.8h0M1660.2 1067.3h0M1661.4 1066.8h0M1662.7 1066.3h0M1663.9 1065.8h0M1665.1 1065.3h0M1666.4 1064.8h0M1667.5 1064.2h0M1668.7 1063.7h0M1669.9 1063.2h0M1671.1 1062.6h0M1672.2 1062.1h0M1673.4 1061.6h0M1674.5 1061.1h0M1675.6 1060.6h0M1676.7 1060.1h0M1677.8 1059.6h0M1678.9 1059.1h0M1680.0 1058.7h0M1681.0 1058.2h0M1682.1 1057.8h0M1683.1 1057.4h0M1684.2 1057.1h0M1685.2 1056.7h0M1686.2 1056.4h0M1687.2 1056.0h0M1688.2 1055.7h0M1689.2 1055.4h0M1690.2 1055.1h0M1691.2 1054.8h0M1692.2 1054.5h0M1693.1 1054.2h0M1694.1 1054.0h0M1695.0 1053.7h0M1696.0 1053.4h0M1696.9 1053.1h0M1697.8 1052.9h0M1698.7 1052.6h0M1699.6 1052.4h0M1700.5 1052.1h0M1701.4 1051.9h0M1702.3 1051.6h0M1703.2 1051.4h0M1704.1 1051.1h0M1704.9 1050.9h0M1705.8 1050.6h0M1706.7 1050.4h0M1707.5 1050.2h0M1708.4 1049.9h0M1709.2 1049.7h0M1710.0 1049.5h0M1710.8 1049.3h0M1711.7 1049.0h0M1712.5 1048.8h0M1713.3 1048.6h0M1714.1 1048.4h0M1714.9 1048.2h0M1715.7 1048.0h0M1716.5 1047.7h0M1717.2 1047.5h0M1718.0 1047.3h0M1718.8 1047.1h0M1719.6 1046.9h0M1720.3 1046.7h0M1721.1 1046.5h0M1721.8 1046.3h0M1722.6 1046.1h0M1723.3 1045.9h0M1724.0 1045.7h0M1724.8 1045.4h0M1725.5 1045.2h0M1726.2 1045.0h0M1726.9 1044.8h0M1727.7 1044.6h0M1728.4 1044.4h0M1729.1 1044.2h0M1729.8 1044.0h0M1730.5 1043.8h0M1731.2 1043.6h0M1731.9 1043.4h0M1732.5 1043.2h0M1733.2 1043.0h0M1733.9 1042.8h0M1734.6 1042.6h0M1735.2 1042.4h0M1735.9 1042.2h0M1736.6 1042.0h0M1737.2 1041.8h0M1737.9 1041.6h0M1738.5 1041.3h0M1739.2 1041.1h0M1739.8 1040.9h0M1740.5 1040.7h0M1741.1 1040.5h0M1741.7 1040.3h0M1742.4 1040.1h0M1743.0 1039.9h0M1743.6 1039.7h0M1744.2 1039.5h0M1744.8 1039.3h0M1745.5 1039.1h0M1746.1 1038.9h0M1746.7 1038.7h0M1747.3 1038.6h0M1747.9 1038.4h0M1748.5 1038.2h0M1749.1 1038.0h0M1749.7 1037.8h0M1750.2 1037.6h0M1750.8 1037.4h0M1751.4 1037.2h0M1752.0 1037.0h0M1752.6 1036.9h0M1753.1 1036.7h0M1753.7 1036.5h0M1754.3 1036.3h0M1754.8 1036.1h0M1755.4 1036.0h0M1756.0 1035.8h0M1756.5 1035.6h0M1757.1 1035.4h0M1757.6 1035.2h0M1758.2 1035.1h0M1758.7 1034.9h0M1759.3 1034.7h0M1759.8 1034.5h0M1760.4 1034.4h0M1760.9 1034.2h0M1761.4 1034.0h0M1762.0 1033.9h0M1762.5 1033.7h0M1763.0 1033.5h0M1763.5 1033.4h0M1764.1 1033.2h0M1764.6 1033.0h0M1765.1 1032.9h0M1765.6 1032.7h0M1766.1 1032.5h0M1766.6 1032.4h0M1767.1 1032.2h0M1767.7 1032.0h0M1768.2 1031.9h0M1768.7 1031.7h0M1769.2 1031.6h0M1769.7 1031.4h0M1770.2 1031.2h0M1770.6 1031.1h0M1771.1 1030.9h0M1771.6 1030.8h0M1772.1 1030.6h0M1772.6 1030.5h0M1773.1 1030.3h0M1773.6 1030.2h0M1774.0 1030.0h0M1774.5 1029.8h0M1775.0 1029.7h0M1775.5 1029.5h0M1775.9 1029.4h0M1776.4 1029.2h0M1776.9 1029.1h0M1777.4 1028.9h0M1777.8 1028.8h0M1778.3 1028.6h0M1778.7 1028.5h0M1779.2 1028.4h0M1779.7 1028.2h0M1780.1 1028.1h0M1780.6 1027.9h0M1781.0 1027.8h0M1781.5 1027.6h0M1781.9 1027.5h0M1782.4 1027.3h0M1782.8 1027.2h0M1783.2 1027.1h0M1783.7 1026.9h0M1784.1 1026.8h0M1784.6 1026.6h0M1785.0 1026.5h0M1785.4 1026.4h0M1785.9 1026.2h0M1786.3 1026.1h0M1786.7 1025.9h0M1787.2 1025.8h0M1787.6 1025.7h0M1788.0 1025.5h0M1788.4 1025.4h0M1788.9 1025.3h0M1789.3 1025.1h0M1789.7 1025.0h0M1790.1 1024.9h0M1790.5 1024.7h0M1790.9 1024.6h0M1791.4 1024.5h0M1791.8 1024.3h0M1792.2 1024.2h0M1792.6 1024.1h0M1793.0 1023.9h0M1793.4 1023.8h0M1793.8 1023.7h0M1794.2 1023.6h0M1794.6 1023.4h0M1795.0 1023.3h0M1795.4 1023.2h0M1795.8 1023.0h0M1796.2 1022.9h0M1796.6 1022.8h0M1797.0 1022.7h0M1797.4 1022.5h0M1797.8 1022.4h0M1798.2 1022.3h0M1798.6 1022.2h0M1798.9 1022.0h0M1799.3 1021.9h0M1799.7 1021.8h0M1800.1 1021.7h0M1800.5 1021.5h0M1800.9 1021.4h0M1801.2 1021.3h0M1801.6 1021.2h0M1802.0 1021.1h0M1802.4 1020.9h0M1802.7 1020.8h0M1803.1 1020.7h0M1803.5 1020.6h0M1803.9 1020.5h0M1804.2 1020.3h0M1804.6 1020.2h0M1805.0 1020.1h0M1805.3 1020.0h0M1805.7 1019.9h0M1806.1 1019.8h0M1806.4 1019.6h0M1806.8 1019.5h0M1807.2 1019.4h0M1807.5 1019.3h0M1807.9 1019.2h0M1808.2 1019.1h0M1808.6 1019.0h0M1808.9 1018.8h0M1809.3 1018.7h0M1809.7 1018.6h0M1810.0 1018.5h0M1810.4 1018.4h0M1810.7 1018.3h0M1811.1 1018.2h0M1811.4 1018.1h0M1811.7 1017.9h0M1812.1 1017.8h0M1812.4 1017.7h0M1812.8 1017.6h0M1813.1 1017.5h0M1813.5 1017.4h0M1813.8 1017.3h0M1814.1 1017.2h0M1814.5 1017.1h0M1814.8 1017.0h0M1815.2 1016.9h0M1815.5 1016.7h0M1815.8 1016.6h0M1816.2 1016.5h0M1816.5 1016.4h0M1816.8 1016.3h0M1817.2 1016.2h0M1817.5 1016.1h0M1817.8 1016.0h0M1818.2 1015.9h0M1818.5 1015.8h0M1818.8 1015.7h0M1819.1 1015.6h0M1819.5 1015.5h0M1819.8 1015.4h0M1820.1 1015.3h0M1820.4 1015.2h0M1820.7 1015.1h0M1821.1 1015.0h0M1821.4 1014.9h0M1821.7 1014.8h0M1822.0 1014.7h0M1822.3 1014.6h0M1822.7 1014.5h0M1823.0 1014.4h0M1823.3 1014.3h0M1823.6 1014.2h0M1823.9 1014.1h0M1824.2 1014.0h0M1824.5 1013.9h0M1824.8 1013.8h0M1825.2 1013.7h0M1825.5 1013.6h0M1825.8 1013.5h0M1826.1 1013.4h0M1826.4 1013.3h0M1826.7 1013.2h0M1827.0 1013.1h0M1827.3 1013.0h0M1827.6 1012.9h0M1827.9 1012.8h0M1828.2 1012.7h0M1828.5 1012.6h0M1828.8 1012.5h0M1829.1 1012.4h0M1829.4 1012.3h0M1829.7 1012.2h0M1830.0 1012.1h0M1830.3 1012.0h0M1830.6 1011.9h0M1830.9 1011.8h0M1831.2 1011.7h0M1831.5 1011.6h0M1831.8 1011.6h0M1832.0 1011.5h0M1832.3 1011.4h0M1832.6 1011.3h0M1832.9 1011.2h0M1833.2 1011.1h0M1833.5 1011.0h0M1833.8 1010.9h0" fill="none" stroke="#000" stroke-width="16" stroke-linecap="round"/>
<path class="tick" d="M1120.0 1314.4v-6.3M1120.0 608.8v6.3M1178.3 1314.4v-13.6M1178.3 608.8v13.6M1236.7 1314.4v-6.3M1236.7 608.8v6.3M1295.1 1314.4v-13.6M1295.1 608.8v13.6M1353.5 1314.4v-6.3M1353.5 608.8v6.3M1411.8 1314.4v-13.6M1411.8 608.8v13.6M1470.2 1314.4v-6.3M1470.2 608.8v6.3M1528.6 1314.4v-13.6M1528.6 608.8v13.6M1587.0 1314.4v-6.3M1587.0 608.8v6.3M1645.3 1314.4v-13.6M1645.3 608.8v13.6M1703.7 1314.4v-6.3M1703.7 608.8v6.3M1762.1 1314.4v-13.6M1762.1 608.8v13.6M1820.5 1314.4v-6.3M1820.5 608.8v6.3M1878.8 1314.4v-13.6M1878.8 608.8v13.6M1061.9 1283.9h6.3M1937.6 1283.9h-6.3M1061.9 1253.2h13.6M1937.6 1253.2h-13.6M1061.9 1222.6h6.3M1937.6 1222.6h-6.3M1061.9 1191.9h13.6M1937.6 1191.9h-13.6M1061.9 1161.2h6.3M1937.6 1161.2h-6.3M1061.9 1130.5h13.6M1937.6 1130.5h-13.6M1061.9 1099.9h6.3M1937.6 1099.9h-6.3M1061.9 1069.2h13.6M1937.6 1069.2h-13.6M1061.9 1038.5h6.3M1937.6 1038.5h-6.3M1061.9 1007.9h13.6M1937.6 1007.9h-13.6M1061.9 977.2h6.3M1937.6 977.2h-6.3M1061.9 946.5h13.6M1937.6 946.5h-13.6M1061.9 915.8h6.3M1937.6 915.8h-6.3M1061.9 885.1h13.6M1937.6 885.1h-13.6M1061.9 854.5h6.3M1937.6 854.5h-6.3M1061.9 823.8h13.6M1937.6 823.8h-13.6M1061.9 793.1h6.3M1937.6 793.1h-6.3M1061.9 762.5h13.6M1937.6 762.5h-13.6M1061.9 731.8h6.3M1937.6 731.8h-6.3M1061.9 701.1h13.6M1937.6 701.1h-13.6M1061.9 670.4h6.3M1937.6 670.4h-6.3M1061.9 639.8h13.6M1937.6 639.8h-13.6" fill="none" stroke="#000" stroke-width="3.8" stroke-linecap="round"/>
<rect class="frame" x="1061.9" y="608.8" width="875.6999999999998" height="705.6000000000001" fill="none" stroke="#000" stroke-width="3"/>
<path class="fit" d="M1060.4 1086.0L1905.5 607.7M1060.4 1119.8L1905.5 694.9M1060.4 1165.4L1905.5 778.9M1060.4 1221.8L1905.5 868.7M1060.4 1258.1L1905.5 988.0" fill="none" stroke="#f00" stroke-width="3" shape-rendering="geometricPrecision" clip-path="url(#ic)"/>
<g class="s t" font-size="48.5" text-anchor="middle">
<text transform="translate(1061.6 1366.2) scale(0.94 1)">4</text>
<text transform="translate(1178.3 1366.2) scale(0.94 1)">5</text>
<text transform="translate(1295.1 1366.2) scale(0.94 1)">6</text>
<text transform="translate(1411.8 1366.2) scale(0.94 1)">7</text>
<text transform="translate(1528.6 1366.2) scale(0.94 1)">8</text>
<text transform="translate(1645.3 1366.2) scale(0.94 1)">9</text>
<text transform="translate(1762.1 1366.2) scale(0.94 1)">10</text>
<text transform="translate(1878.8 1366.2) scale(0.94 1)">11</text>
</g>
<g class="s t" font-size="48.5" text-anchor="end">
<text transform="translate(1045.6 1328.0) scale(0.94 1)">-6</text>
<text transform="translate(1045.6 1266.7) scale(0.94 1)">-5</text>
<text transform="translate(1045.6 1205.3) scale(0.94 1)">-4</text>
<text transform="translate(1045.6 1144.0) scale(0.94 1)">-3</text>
<text transform="translate(1045.6 1082.6) scale(0.94 1)">-2</text>
<text transform="translate(1045.6 1021.2) scale(0.94 1)">-1</text>
<text transform="translate(1045.6 959.9) scale(0.94 1)">0</text>
<text transform="translate(1045.6 898.5) scale(0.94 1)">1</text>
<text transform="translate(1045.6 837.2) scale(0.94 1)">2</text>
<text transform="translate(1045.6 775.9) scale(0.94 1)">3</text>
<text transform="translate(1045.6 714.5) scale(0.94 1)">4</text>
<text transform="translate(1045.6 653.1) scale(0.94 1)">5</text>
</g>
<text class="s t" font-size="68" x="1499.8" y="1442.8">ln t</text>
<text class="s t" font-size="68" transform="translate(952.9 1134.8) rotate(-90)"><tspan x="-1" y="0">ln </tspan><tspan x="67.4" y="6" textLength="51.4" lengthAdjust="spacingAndGlyphs">&lt; </tspan><tspan x="117.8" y="0">(</tspan><tspan x="139.2" y="0" font-size="66" textLength="40" lengthAdjust="spacingAndGlyphs">Δ</tspan><tspan x="177.9" y="0">r</tspan><tspan x="201.1" y="0">)</tspan><tspan x="224.8" y="-37.9" font-size="42">2 </tspan><tspan x="259.4" y="6" textLength="35.6" lengthAdjust="spacingAndGlyphs">&gt;</tspan></text>
<text class="t2" transform="translate(1605.1 752.9) rotate(-29.6)"><tspan class="a" font-size="33.5" x="-4.66" y="0">I=1.0, </tspan><tspan class="s" font-size="29.5" x="90.0" y="0">γ </tspan><tspan class="s" font-size="33.7" x="110.8" y="0" textLength="79.5" lengthAdjust="spacingAndGlyphs">= 1.07</tspan></text>
<text class="t2" transform="translate(1710.8 775.5) rotate(-29.6)"><tspan class="a" font-size="33.5" x="-4.66" y="0">I=0.3, </tspan><tspan class="s" font-size="29.5" x="90.0" y="0">γ </tspan><tspan class="s" font-size="33.7" x="110.8" y="0" textLength="79.5" lengthAdjust="spacingAndGlyphs">= 0.95</tspan></text>
<text class="t2" transform="translate(1717.8 844.8) rotate(-24.2)"><tspan class="a" font-size="33.5" x="-4.66" y="0">I=0.1, </tspan><tspan class="s" font-size="29.5" x="90.0" y="0">γ </tspan><tspan class="s" font-size="33.7" x="110.8" y="0" textLength="79.5" lengthAdjust="spacingAndGlyphs">= 0.87</tspan></text>
<text class="t2" transform="translate(1712.0 923.6) rotate(-19.45)"><tspan class="a" font-size="33.5" x="-4.66" y="0">I=0.02, </tspan><tspan class="s" font-size="29.5" x="108.6" y="0">γ </tspan><tspan class="s" font-size="33.7" x="129.4" y="0" textLength="79.5" lengthAdjust="spacingAndGlyphs">= 0.79</tspan></text>
<text class="t2" transform="translate(1719.0 1029.3) rotate(-17.5)"><tspan class="a" font-size="33.5" x="-4.66" y="0">I=0.0, </tspan><tspan class="s" font-size="29.5" x="90.0" y="0">γ </tspan><tspan class="s" font-size="33.7" x="110.8" y="0" textLength="79.5" lengthAdjust="spacingAndGlyphs">= 0.61</tspan></text>
</g>
</svg>
</body>
</html>
